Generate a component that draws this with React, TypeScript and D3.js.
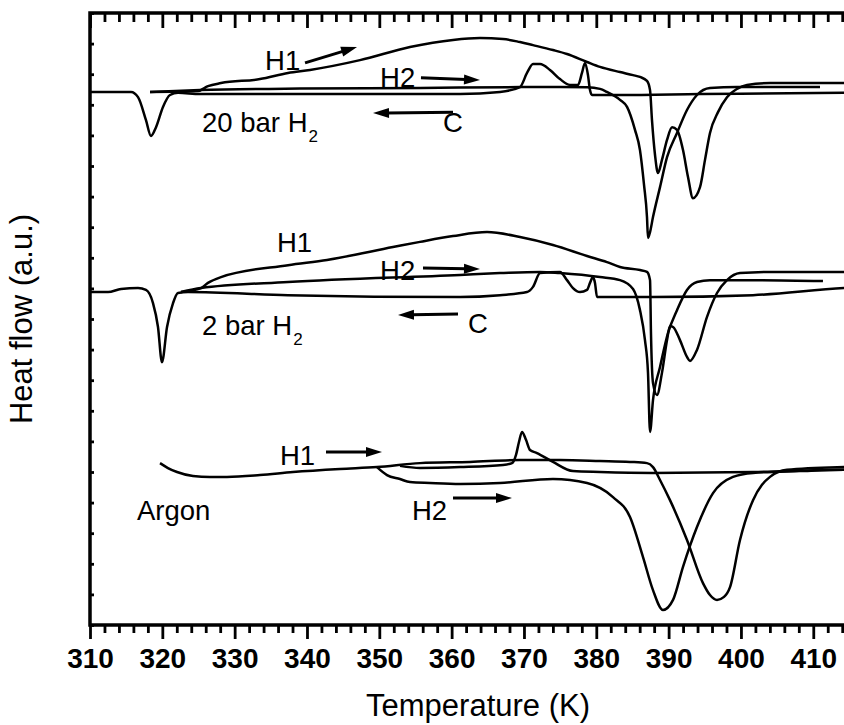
import React, { useEffect, useRef } from "react";
import * as d3 from "d3";

type Pt = [number, number];

// temperature (K), heat flow (a.u.)
const bar20H1: Pt[] = [
  [318.3, 17.42], [324.93, 17.45], [326.31, 17.61], [328.11, 17.71], [333.5, 17.84],
  [337.38, 18.04], [340.42, 18.14], [347.33, 18.46], [354.24, 18.89], [360.19, 19.12],
  [363.92, 19.18], [367.1, 19.15], [369.45, 19.05], [371.25, 18.95], [374.01, 18.79],
  [375.95, 18.66], [378.72, 18.4], [380.51, 18.24], [383.28, 18.07], [385.08, 17.97],
  [386.04, 17.91], [387.01, 17.78], [387.43, 17.48], [387.7, 16.5], [388.12, 15.36],
  [388.53, 14.77], [389.08, 15.2], [389.78, 15.85], [390.47, 16.27], [391.16, 16.18],
  [391.99, 15.52], [392.68, 14.64], [393.37, 13.95], [394.34, 14.31], [395.03, 15.2],
  [395.72, 16.08], [396.83, 16.76], [398.07, 17.25], [399.45, 17.52], [400.84, 17.65],
  [404.02, 17.71], [414.25, 17.71], [419, 17.71],
];
const bar20H2: Pt[] = [
  [318.3, 17.42], [325.21, 17.48], [339.03, 17.53], [355.63, 17.55], [369.45, 17.58],
  [374.98, 17.58], [378.72, 17.57], [380.51, 17.52], [381.48, 17.42], [383.28, 17.16],
  [384.25, 16.93], [385.35, 16.18], [386.04, 15.52], [386.6, 14.38], [387.01, 13.33],
  [387.15, 12.65], [387.43, 12.84], [387.84, 13.33], [388.81, 14.31], [389.78, 15.29],
  [391.16, 16.08], [392.54, 16.83], [393.92, 17.32], [395.72, 17.55], [399.45, 17.58],
  [410.93, 17.58],
];
const bar20C: Pt[] = [
  [310, 17.42], [315.67, 17.42], [316.64, 17.25], [317.74, 16.5], [318.43, 15.98],
  [319.13, 16.27], [320.09, 16.93], [321.06, 17.32], [322.17, 17.39], [325.21, 17.35],
  [339.03, 17.35], [361.16, 17.35], [366.69, 17.42], [369.45, 17.58], [370.42, 18.04],
  [371.25, 18.33], [372.22, 18.33], [373.6, 18.14], [374.98, 17.84], [376.36, 17.65],
  [377.47, 17.65], [378.02, 18.04], [378.44, 18.37], [378.85, 17.97], [379.13, 17.48],
  [379.41, 17.32], [383.28, 17.32], [394.34, 17.35], [414.25, 17.39], [419, 17.39],
];

const bar2H1: Pt[] = [
  [322.58, 10.88], [325.35, 11.01], [326.31, 11.18], [328.11, 11.37], [337.38, 11.76],
  [342.77, 11.93], [351.89, 12.35], [355.63, 12.52], [360.19, 12.71], [364.89, 12.84],
  [369.45, 12.68], [374.01, 12.42], [378.72, 12.06], [381.48, 11.86], [383.28, 11.7],
  [386.04, 11.6], [387.01, 11.54], [387.43, 11.27], [387.56, 9.54], [387.84, 7.91],
  [388.39, 7.52], [389.08, 8.24], [389.78, 9.31], [390.19, 9.77], [390.61, 9.74],
  [391.57, 9.31], [392.54, 8.76], [392.96, 8.63], [393.92, 8.99], [395.31, 10.07],
  [396.69, 10.85], [398.07, 11.27], [399.87, 11.5], [404.02, 11.54], [414.25, 11.54],
  [419, 11.54],
];
const bar2H2: Pt[] = [
  [322.58, 10.88], [325.35, 11.01], [337.38, 11.21], [361.16, 11.44], [366.69, 11.5],
  [372.22, 11.54], [374.98, 11.5], [380.51, 11.37], [383.28, 11.27], [385.08, 10.98],
  [386.04, 10.29], [386.73, 9.31], [387.15, 8.24], [387.43, 6.31], [387.84, 7.35],
  [388.81, 8.43], [389.91, 9.54], [391.16, 10.29], [392.54, 10.95], [393.92, 11.21],
  [395.72, 11.27], [401.67, 11.27], [411.34, 11.24],
];
const bar2C: Pt[] = [
  [310, 10.88], [312.49, 10.88], [314.29, 10.98], [316.64, 11.01], [317.74, 10.95],
  [318.71, 10.52], [319.4, 9.74], [319.95, 8.59], [320.65, 9.74], [321.48, 10.52],
  [322.17, 10.85], [323.55, 10.88], [337.38, 10.78], [361.16, 10.72], [366.69, 10.78],
  [370.42, 10.88], [371.25, 11.05], [372.22, 11.5], [374.98, 11.54], [375.95, 11.27],
  [376.78, 11.01], [377.75, 10.88], [378.72, 10.95], [379.13, 11.18], [379.54, 11.37],
  [379.82, 11.18], [380.1, 10.72], [387.84, 10.72], [401.67, 10.78], [414.25, 11.01],
  [419, 11.05],
];

const argonH1: Pt[] = [
  [319.68, 5.29], [320.78, 5.13], [322.03, 5.0], [324.24, 4.87], [326.59, 4.84],
  [328.94, 4.84], [333.5, 4.9], [338.07, 5.0], [344.57, 5.1], [349.68, 5.16],
  [355.63, 5.29], [362.54, 5.33], [369.45, 5.39], [374.98, 5.39], [380.51, 5.36],
  [384.66, 5.33], [387.01, 5.29], [387.84, 5.16], [388.81, 4.74], [390.19, 4.08],
  [392.54, 2.78], [394.75, 1.37], [395.72, 0.98], [396.69, 0.82], [397.66, 0.92],
  [398.49, 1.24], [399.87, 2.78], [401.67, 4.08], [402.91, 4.58], [404.02, 4.84],
  [406.37, 5.07], [414.25, 5.16], [419, 5.18],
];
const argonH2: Pt[] = [
  [349.68, 5.16], [351.06, 4.9], [352.86, 4.77], [354.24, 4.67], [357.01, 4.64],
  [361.16, 4.61], [366.69, 4.64], [374.01, 4.77], [378.72, 4.64], [382.31, 4.18],
  [384.66, 3.53], [386.46, 2.22], [387.84, 1.14], [389.22, 0.49], [390.61, 0.82],
  [391.99, 1.9], [393.92, 3.2], [396.14, 4.31], [398.9, 4.84], [401.67, 4.97],
  [408.16, 5.03], [414.25, 5.07], [419, 5.07],
];
const argonC: Pt[] = [
  [352.86, 5.2], [355.63, 5.13], [361.16, 5.16], [367.1, 5.23], [368.35, 5.29],
  [368.9, 5.56], [369.31, 5.98], [369.73, 6.31], [370.28, 6.05], [370.83, 5.72],
  [371.8, 5.62], [374.01, 5.33], [376.78, 5.03], [380.51, 5.0], [387.84, 4.97],
  [401.67, 5.0], [414.25, 5.07], [419, 5.07],
];

const series = [bar20H1, bar20H2, bar20C, bar2H1, bar2H2, bar2C, argonH1, argonH2, argonC];

const labelTicks = d3.range(310, 411, 10);
const majorTicks = d3.range(310, 421, 10);
const minorTicks = d3.range(310, 421, 2).filter((t) => t % 10 !== 0);
const yTicks = d3.range(0, 21, 1);

// annotation text: anchor at (temperature, heat flow)
const labels = [
  { text: "H1", sub: "", t: 334.2, v: 18.14 },
  { text: "H2", sub: "", t: 350.1, v: 17.58 },
  { text: "20 bar H", sub: "2", t: 325.49, v: 16.11 },
  { text: "C", sub: "", t: 358.81, v: 16.11 },
  { text: "H1", sub: "", t: 335.85, v: 12.19 },
  { text: "H2", sub: "", t: 350.1, v: 11.27 },
  { text: "2 bar H", sub: "2", t: 325.49, v: 9.48 },
  { text: "C", sub: "", t: 362.26, v: 9.54 },
  { text: "H1", sub: "", t: 336.27, v: 5.23 },
  { text: "Argon", sub: "", t: 316.5, v: 3.43 },
  { text: "H2", sub: "", t: 354.52, v: 3.43 },
];

const arrows: [Pt, Pt][] = [
  [[339.73, 18.37], [346.92, 18.89]],
  [[355.76, 17.88], [363.92, 17.81]],
  [[360.19, 16.76], [349.13, 16.73]],
  [[356.04, 11.67], [363.92, 11.63]],
  [[360.88, 10.16], [352.58, 10.13]],
  [[342.63, 5.65], [350.37, 5.65]],
  [[360.19, 4.15], [368.35, 4.15]],
];

const FONT = "'Liberation Sans', Arial, sans-serif";

export default function App() {
  const ref = useRef<SVGSVGElement>(null);

  useEffect(() => {
    const svg = d3.select(ref.current);
    svg.selectAll("*").remove();

    const x = d3.scaleLinear().domain([310, 420]).range([90, 885.6]);
    const y = d3.scaleLinear().domain([0, 20]).range([625, 13]);

    const line = d3
      .line<Pt>()
      .x((d) => x(d[0]))
      .y((d) => y(d[1]))
      .curve(d3.curveMonotoneX);

    series.forEach((s) => {
      svg.append("path")
        .datum(s)
        .attr("fill", "none")
        .attr("stroke", "#000")
        .attr("stroke-width", 2.5)
        .attr("stroke-linejoin", "round")
        .attr("d", line);
    });

    // frame
    svg.append("rect")
      .attr("x", x(310)).attr("y", y(20))
      .attr("width", x(420) - x(310)).attr("height", y(0) - y(20))
      .attr("fill", "none").attr("stroke", "#000").attr("stroke-width", 3.5);

    const styleTicks = (g: any) => {
      g.select(".domain").remove();
      g.selectAll("line").attr("stroke", "#000").attr("stroke-width", 2.8);
    };

    // bottom axis
    svg.append("g")
      .attr("transform", `translate(0,${y(0)})`)
      .call(d3.axisBottom(x).tickValues(labelTicks).tickSize(14).tickPadding(9).tickFormat(d3.format("d")))
      .call(styleTicks)
      .selectAll("text")
      .attr("font-size", 28).attr("font-weight", "bold").attr("font-family", FONT).attr("fill", "#000");
    svg.append("g")
      .attr("transform", `translate(0,${y(0)})`)
      .call(d3.axisBottom(x).tickValues([420]).tickSize(14).tickFormat(() => ""))
      .call(styleTicks);
    svg.append("g")
      .attr("transform", `translate(0,${y(0)})`)
      .call(d3.axisBottom(x).tickValues(minorTicks).tickSize(8).tickFormat(() => ""))
      .call(styleTicks);

    // top axis, ticks inward
    svg.append("g")
      .attr("transform", `translate(0,${y(20)})`)
      .call(d3.axisTop(x).tickValues(majorTicks).tickSize(-15).tickFormat(() => ""))
      .call(styleTicks);
    svg.append("g")
      .attr("transform", `translate(0,${y(20)})`)
      .call(d3.axisTop(x).tickValues(minorTicks).tickSize(-9).tickFormat(() => ""))
      .call(styleTicks);

    // left axis, small inward ticks
    svg.append("g")
      .attr("transform", `translate(${x(310)},0)`)
      .call(d3.axisLeft(y).tickValues(yTicks).tickSize(-4).tickFormat(() => ""))
      .call(styleTicks);

    // titles
    svg.append("text")
      .attr("x", 478).attr("y", 716)
      .attr("text-anchor", "middle")
      .attr("font-family", FONT).attr("font-size", 31)
      .text("Temperature (K)");
    svg.append("text")
      .attr("transform", `translate(32,${(y(0) + y(20)) / 2}) rotate(-90)`)
      .attr("text-anchor", "middle")
      .attr("font-family", FONT).attr("font-size", 31)
      .text("Heat flow (a.u.)");

    // labels
    labels.forEach((l) => {
      const t = svg.append("text")
        .attr("x", x(l.t)).attr("y", y(l.v))
        .attr("font-family", FONT).attr("font-size", 27.5)
        .text(l.text);
      if (l.sub) {
        t.append("tspan").attr("dx", 1).attr("dy", 10).attr("font-size", 17).text(l.sub);
      }
    });

    // arrows
    arrows.forEach(([a, b]) => {
      const x1 = x(a[0]), y1 = y(a[1]), x2 = x(b[0]), y2 = y(b[1]);
      const len = Math.hypot(x2 - x1, y2 - y1);
      const ux = (x2 - x1) / len, uy = (y2 - y1) / len;
      const headL = 16, headW = 5;
      const bx = x2 - ux * headL, by = y2 - uy * headL;
      svg.append("line")
        .attr("x1", x1).attr("y1", y1).attr("x2", bx + ux * 2).attr("y2", by + uy * 2)
        .attr("stroke", "#000").attr("stroke-width", 3);
      svg.append("path")
        .attr("d", `M${x2},${y2}L${bx - uy * headW},${by + ux * headW}L${bx + uy * headW},${by - ux * headW}Z`)
        .attr("fill", "#000");
    });
  }, []);

  return (
    <svg
      ref={ref}
      width={844}
      height={725}
      style={{ position: "absolute", left: 0, top: 0, background: "#fff" }}
    />
  );
}
